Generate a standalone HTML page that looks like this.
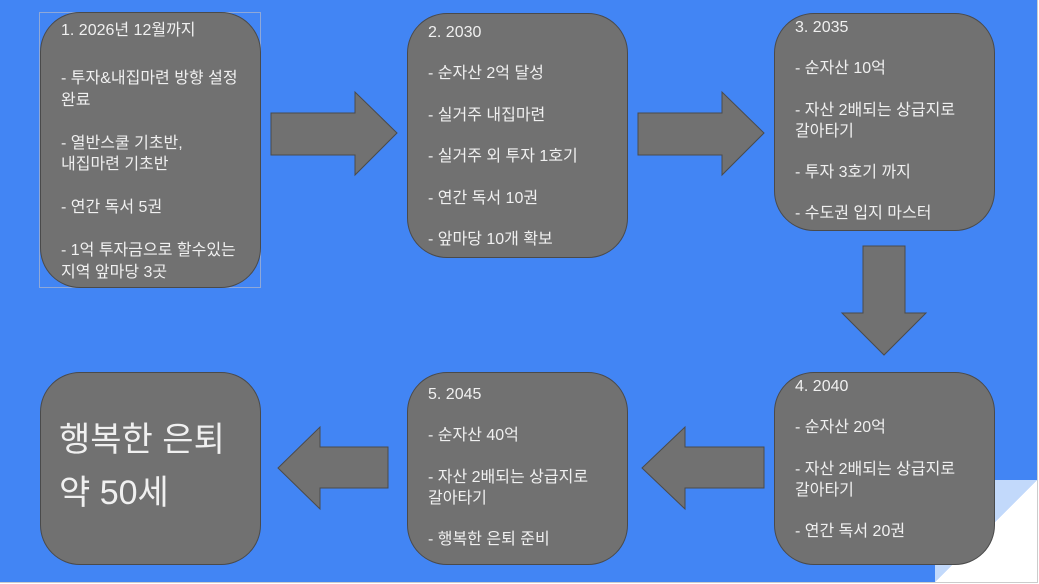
<!DOCTYPE html>
<html><head><meta charset="utf-8"><style>
*{margin:0;padding:0}
body{width:1039px;height:584px;overflow:hidden;background:#fff;position:relative;font-family:"Liberation Sans","Noto Sans CJK KR",sans-serif}
#bg{position:absolute;left:0;top:0;width:1037px;height:582px;background:#4285f4}
.b{position:absolute;background:#717171;border:1px solid #4a4a4a;border-radius:40px;box-sizing:border-box;color:#f0f0f0;font-size:16px;line-height:20.7px;padding:7px 0 0 20px;white-space:pre}
.t{margin-bottom:5px}
</style></head><body>
<div id="bg"></div>
<svg style="position:absolute;left:0;top:0" width="1039" height="584">
<polygon points="935,480 1037,480 935,582" fill="#c2d9fb"/>
<polygon points="1037,480 1037,582 935,582" fill="#fff"/>
<line x1="1037.5" y1="0" x2="1037.5" y2="583" stroke="#ccc"/>
<line x1="0" y1="582.5" x2="1038" y2="582.5" stroke="#ccc"/>
<rect x="39.5" y="12.5" width="221" height="275" fill="none" stroke="#8fa8d8" stroke-width="1"/>
<g fill="#717171" stroke="#4a4a4a" stroke-width="1">
<polygon points="271,113 355,113 355,92 397,133 355,175 355,155 271,155"/>
<polygon points="638,113 722,113 722,92 764,133 722,175 722,155 638,155"/>
<polygon points="863,246 905,246 905,313 926,313 884,355 842,313 863,313"/>
<polygon points="388,447 320,447 320,427 278,468 320,509 320,488 388,488"/>
<polygon points="764,447 685,447 685,427 642,468 685,509 685,488 764,488"/>
</g>
</svg>
<div class="b" style="left:40px;top:12px;width:221px;height:276px;line-height:21.5px;padding-top:7px"><div class="t">1. 2026년 12월까지</div>
- 투자&amp;내집마련 방향 설정
완료

- 열반스쿨 기초반,
내집마련 기초반

- 연간 독서 5권

- 1억 투자금으로 할수있는
지역 앞마당 3곳</div>
<div class="b" style="left:407px;top:13px;width:221px;height:245px;padding-top:9px">2. 2030

- 순자산 2억 달성

- 실거주 내집마련

- 실거주 외 투자 1호기

- 연간 독서 10권

- 앞마당 10개 확보</div>
<div class="b" style="left:774px;top:13px;width:221px;height:218px;padding-top:4px">3. 2035

- 순자산 10억

- 자산 2배되는 상급지로
갈아타기

- 투자 3호기 까지

- 수도권 입지 마스터</div>
<div class="b" style="left:774px;top:372px;width:221px;height:193px;padding-top:4px">4. 2040

- 순자산 20억

- 자산 2배되는 상급지로
갈아타기

- 연간 독서 20권</div>
<div class="b" style="left:407px;top:372px;width:221px;height:193px;padding-top:12px">5. 2045

- 순자산 40억

- 자산 2배되는 상급지로
갈아타기

- 행복한 은퇴 준비</div>
<div class="b" style="left:40px;top:372px;width:221px;height:193px;font-size:34px;line-height:53px;padding-top:41px;padding-left:18px">행복한 은퇴
약 50세</div>
</body></html>
